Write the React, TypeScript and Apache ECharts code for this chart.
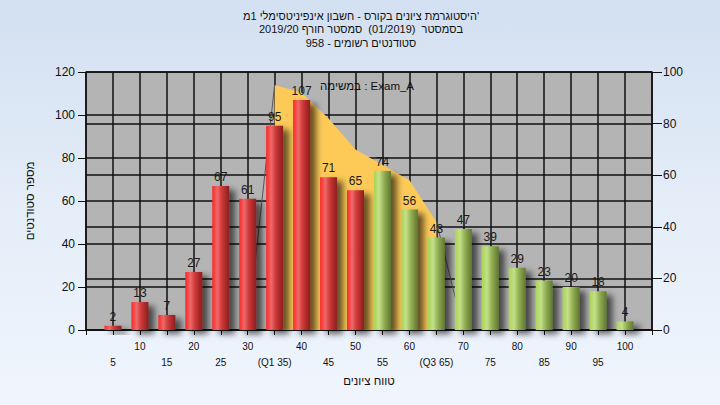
import React, { useEffect, useRef } from "react";
import * as echarts from "echarts";

// ---- data ----
const grades = [5, 10, 15, 20, 25, 30, 35, 40, 45, 50, 55, 60, 65, 70, 75, 80, 85, 90, 95, 100];
const counts = [2, 13, 7, 27, 67, 61, 95, 107, 71, 65, 74, 56, 43, 47, 39, 29, 23, 20, 18, 4];
const gradeLabels = ["5", "10", "15", "20", "25", "30", "(Q1 35)", "40", "45", "50", "55", "60", "(Q3 65)", "70", "75", "80", "85", "90", "95", "100"];
const passGrade = 55;

const areaGrades = [35, 40, 45, 50, 55, 60, 65];
const areaValues = [95, 92, 82, 70, 64, 58, 42];
const areaStartGrade = 30;
const areaEndGrade = 70;

const leftTicks = { min: 0, max: 120, interval: 20 };
const rightTicks = { min: 0, max: 100, interval: 20 };
const xRange = { min: 0, max: 105, interval: 5 };

const titleLines = [
  "היסטוגרמת ציונים בקורס - חשבון אינפיניטסימלי 1מ'",
  "בסמסטר  (01/2019)  סמסטר חורף 2019/20",
  "סטודנטים רשומים - 958",
];
const legendText = "במשימה : Exam_A";
const yAxisTitle = "מספר סטודנטים";
const xAxisTitle = "טווח ציונים";

const FONT = "'Liberation Sans', Arial, sans-serif";

function redGrad() {
  return new echarts.graphic.LinearGradient(0, 0, 1, 0, [
    { offset: 0, color: "#ff2626" },
    { offset: 0.3, color: "#ec6a6a" },
    { offset: 0.55, color: "#d23a3a" },
    { offset: 1, color: "#8a1e1e" },
  ]);
}
function greenGrad() {
  return new echarts.graphic.LinearGradient(0, 0, 1, 0, [
    { offset: 0, color: "#a8d452" },
    { offset: 0.3, color: "#c4e08a" },
    { offset: 0.6, color: "#92ae52" },
    { offset: 1, color: "#5e7632" },
  ]);
}

export default function App() {
  const ref = useRef<HTMLDivElement>(null);
  useEffect(() => {
    if (!ref.current) return;
    const chart = echarts.init(ref.current, null, { renderer: "svg" });
    const barData = grades.map((g, i) => ({
      value: [g, counts[i]],
      itemStyle: { color: g >= passGrade ? greenGrad() : redGrad() },
    }));
    const areaData = areaGrades.map((g, i) => [g, areaValues[i]]);
    const leftEdge = [
      [areaStartGrade, 0],
      [areaGrades[0], areaValues[0]],
    ];
    const rightEdge = [
      [areaGrades[areaGrades.length - 1], areaValues[areaValues.length - 1]],
      [areaEndGrade, 0],
    ];
    const gridLine = { show: true, lineStyle: { color: "#111", width: 1.5 } };
    chart.setOption({
      animation: false,
      textStyle: { fontFamily: FONT },
      grid: { left: 86, right: 68, top: 72, bottom: 75, show: true, backgroundColor: "#b4b4b4", borderWidth: 0 },
      graphic: [
        {
          type: "text",
          x: 361,
          y: 9,
          style: {
            text: titleLines.join("\n"),
            fill: "#111",
            font: `11px ${FONT}`,
            lineHeight: 13.5,
            textAlign: "center",
            textVerticalAlign: "top",
          },
          z: 10,
        },
        {
          type: "text",
          x: 367,
          y: 86,
          style: {
            text: legendText,
            fill: "#111",
            font: `11.5px ${FONT}`,
            textAlign: "center",
            textVerticalAlign: "middle",
          },
          z: 10,
        },
      ],
      xAxis: {
        type: "value",
        min: xRange.min,
        max: xRange.max,
        interval: xRange.interval,
        name: xAxisTitle,
        nameLocation: "middle",
        nameGap: 45,
        nameTextStyle: { color: "#111", fontSize: 11.5, fontFamily: FONT },
        axisLine: { show: true, onZero: false, lineStyle: { color: "#111", width: 1.5 } },
        axisTick: { show: true, length: 5, lineStyle: { color: "#111" } },
        splitLine: gridLine,
        axisLabel: {
          color: "#111",
          fontSize: 10,
          fontFamily: FONT,
          lineHeight: 16,
          margin: 8,
          formatter: (v: number) => {
            const i = grades.indexOf(Math.round(v));
            if (i < 0) return "";
            return grades[i] % 10 === 0 ? gradeLabels[i] : "\n" + gradeLabels[i];
          },
        },
      },
      yAxis: [
        {
          type: "value",
          min: leftTicks.min,
          max: leftTicks.max,
          interval: leftTicks.interval,
          name: yAxisTitle,
          nameLocation: "middle",
          nameRotate: 90,
          nameGap: 50,
          nameTextStyle: { color: "#111", fontSize: 11.5, fontFamily: FONT },
          axisLine: { show: true, lineStyle: { color: "#111", width: 1.5 } },
          axisTick: { show: true, length: 8, lineStyle: { color: "#111" } },
          axisLabel: { color: "#111", fontSize: 12, margin: 11, fontFamily: FONT },
          splitLine: gridLine,
        },
        {
          type: "value",
          position: "right",
          min: rightTicks.min,
          max: rightTicks.max,
          interval: rightTicks.interval,
          axisLine: { show: true, lineStyle: { color: "#111", width: 1.5 } },
          axisTick: { show: true, length: 10, lineStyle: { color: "#111" } },
          axisLabel: { color: "#111", fontSize: 12, margin: 11, fontFamily: FONT },
          splitLine: gridLine,
        },
      ],
      series: [
        {
          type: "line",
          yAxisIndex: 1,
          data: areaData,
          symbol: "none",
          lineStyle: { width: 0 },
          areaStyle: { color: "#fdca58", opacity: 1 },
          z: 1,
        },
        {
          type: "line",
          yAxisIndex: 1,
          data: leftEdge,
          symbol: "none",
          lineStyle: { width: 1, color: "#555" },
          z: 1,
        },
        {
          type: "line",
          yAxisIndex: 1,
          data: rightEdge,
          symbol: "none",
          lineStyle: { width: 1, color: "#555" },
          z: 1,
        },
        {
          type: "bar",
          yAxisIndex: 0,
          data: barData,
          barWidth: 17,
          z: 3,
          itemStyle: {
            shadowColor: "rgba(0,0,0,0.6)",
            shadowBlur: 6,
            shadowOffsetX: 6,
            shadowOffsetY: 4,
          },
          label: {
            show: true,
            position: "top",
            distance: 3,
            color: "#1a1a1a",
            fontSize: 12,
            fontFamily: FONT,
            formatter: (p: any) => String(p.value[1]),
          },
        },
      ],
    });
    return () => chart.dispose();
  }, []);
  return (
    <div
      ref={ref}
      style={{
        position: "absolute",
        left: 0,
        top: 0,
        width: 720,
        height: 405,
        background: "linear-gradient(to bottom, #d3e0f1 0%, #e4edf8 50%, #f0f5fd 100%)",
      }}
    />
  );
}
